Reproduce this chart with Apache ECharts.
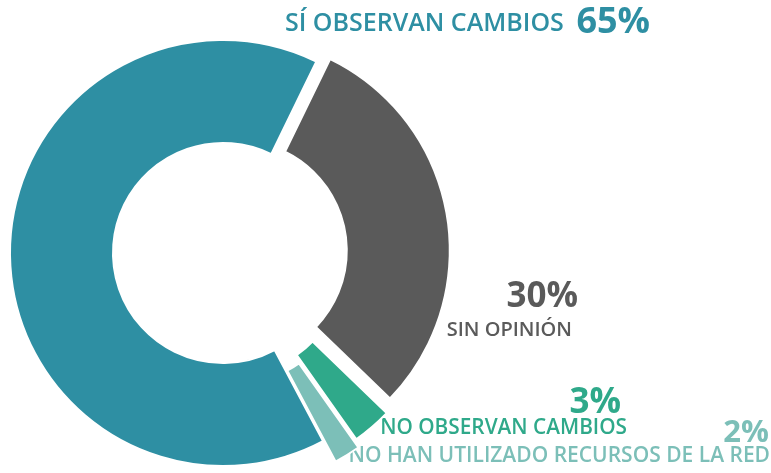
<!DOCTYPE html>
<html>
<head>
<meta charset="utf-8">
<script src="https://cdn.jsdelivr.net/npm/echarts@6/dist/echarts.min.js"></script>
<style>
  html, body { margin: 0; padding: 0; background: #fff; }
  #main { width: 771px; height: 473px; }
</style>
</head>
<body>
<div id="main"></div>
<script>
// data
const names = ["SÍ OBSERVAN CAMBIOS", "SIN OPINIÓN", "NO OBSERVAN CAMBIOS", "NO HAN UTILIZADO RECURSOS DE LA RED"];
const values = [65, 30, 3, 2];

const colors = ["#2e8fa3", "#5a5a5a", "#2fa98a", "#7cbfb8"];
// how far each slice is pulled out
const offsets = [0, 14, 16, 24];

// label layout (pixels): name and percent anchors
const nameStyle = [
  { x: 285, y: 24, align: "left", size: 25 },
  { x: 572, y: 330, align: "right", size: 20 },
  { x: 627, y: 428, align: "right", size: 20.8 },
  { x: 770, y: 456, align: "right", size: 21 }
];
const pctStyle = [
  { x: 650, y: 23, size: 36 },
  { x: 578, y: 297, size: 35 },
  { x: 621, y: 403, size: 35 },
  { x: 769, y: 433, size: 31 }
];

var chartDom = document.getElementById("main");
var myChart = echarts.init(chartDom);

// one pie per slice so every slice can have its own pull-out distance
var series = values.map(function (_, k) {
  return {
    type: "pie",
    center: [223, 253],
    radius: [110, 213],
    startAngle: 298,
    clockwise: true,
    selectedMode: "multiple",
    selectedOffset: offsets[k],
    silent: true,
    label: { show: false },
    labelLine: { show: false },
    z: k === 0 ? 2 : 3,
    data: values.map(function (v, i) {
      return {
        value: v,
        name: names[i],
        selected: i === k && offsets[k] > 0,
        itemStyle: i === k
          ? { color: colors[i], borderColor: "#fff", borderWidth: 2 }
          : { color: "rgba(0,0,0,0)", borderWidth: 0 }
      };
    })
  };
});

var texts = [];
names.forEach(function (n, i) {
  var s = nameStyle[i];
  texts.push({
    type: "text",
    style: { text: n, x: s.x, y: s.y, fill: colors[i], textAlign: s.align, textVerticalAlign: "middle",
             font: "600 " + s.size + "px 'Open Sans'" }
  });
  var p = pctStyle[i];
  texts.push({
    type: "text",
    style: { text: values[i] + "%", x: p.x, y: p.y, fill: colors[i], textAlign: "right", textVerticalAlign: "middle",
             font: "bold " + p.size + "px 'Open Sans'" }
  });
});

var option = {
  animation: false,
  graphic: { elements: texts },
  series: series
};

option && myChart.setOption(option);
</script>
</body>
</html>
